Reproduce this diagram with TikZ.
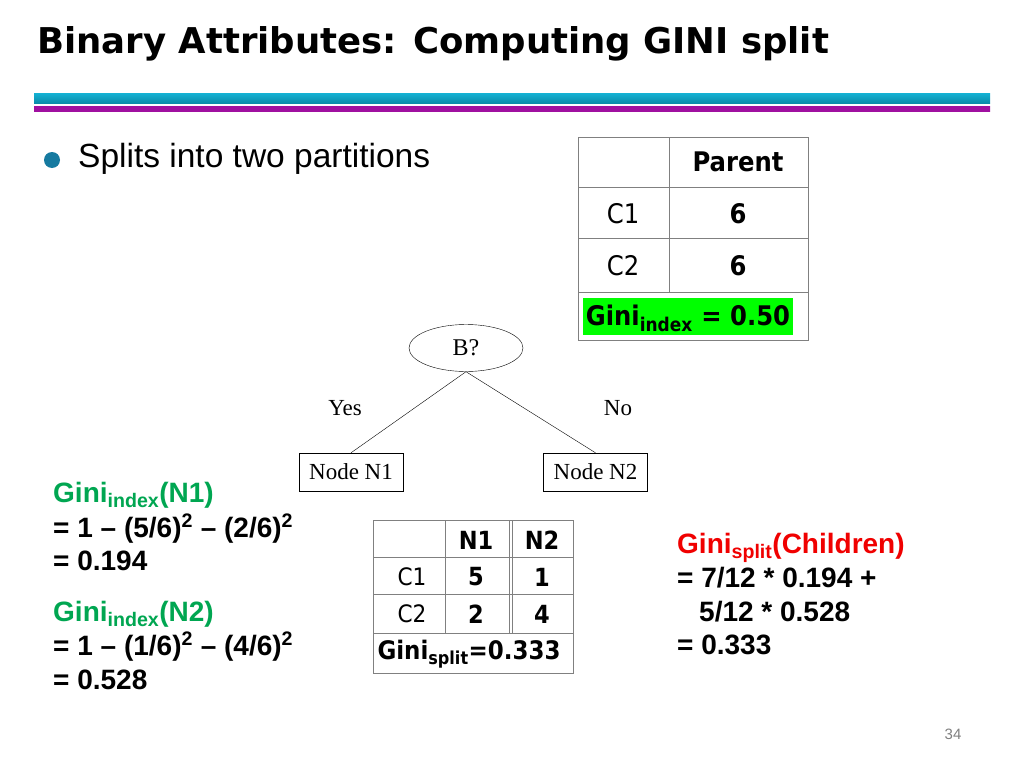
\documentclass[tikz,border=0pt]{standalone}
\usepackage{fontspec}
\usepackage{tikz}
\usetikzlibrary{shapes.geometric}
\setmainfont{Liberation Sans}
\newfontfamily\tahoma[FakeStretch=0.9]{DejaVu Sans}
\newfontfamily\titlefont{DejaVu Sans}
\newfontfamily\timesfont{Liberation Serif}
\definecolor{barcyan}{RGB}{20,178,212}
\definecolor{bardark}{RGB}{10,140,170}
\definecolor{barmag}{RGB}{255,0,255}
\definecolor{barmagdark}{RGB}{160,16,160}
\definecolor{ginigreen}{RGB}{0,166,81}
\definecolor{ginired}{RGB}{240,0,0}
\definecolor{bulletblue}{RGB}{22,122,160}
\definecolor{tablegray}{RGB}{128,128,128}
\definecolor{cellgreen}{RGB}{0,255,0}

\begin{document}
\begin{tikzpicture}[x=1pt,y=-1pt,
    titletext/.style={anchor=base west,inner sep=0pt,font=\titlefont\bfseries\fontsize{35.5}{40}\selectfont},
    tbl/.style={draw=tablegray,line width=1pt},
    cell/.style={inner sep=0pt,font=\tahoma\fontsize{27}{30}\selectfont},
    boldcell/.style={cell,font=\tahoma\bfseries\fontsize{27}{30}\selectfont},
    smallcell/.style={inner sep=0pt,font=\tahoma\fontsize{24}{28}\selectfont},
    smallbold/.style={smallcell,font=\tahoma\bfseries\fontsize{25}{28}\selectfont},
    treenode/.style={draw,rectangle,minimum width=104pt,minimum height=38pt,inner sep=0pt,font=\timesfont\fontsize{23}{26}\selectfont},
    treelabel/.style={inner sep=0pt,font=\timesfont\fontsize{23}{26}\selectfont},
    calc/.style={anchor=base west,inner sep=0pt,font=\bfseries\fontsize{28}{32}\selectfont}]
        \useasboundingbox (0,0) rectangle (1024,768);
        \fill[white] (0,0) rectangle (1024,768);
        % title and bars
        \node[titletext] (title) at (37,53) {Binary Attributes: Computing GINI split};
        \shade[top color=barcyan,middle color=barcyan!70!white,bottom color=bardark] (34,93) rectangle (990,103);
        \shade[left color=barmagdark,middle color=barmag,right color=barmagdark] (34,106) rectangle (990,111);
        % bullet
        \fill[bulletblue] (52,160) circle (8);
        \node[anchor=base west,inner sep=0pt,font=\fontsize{33.5}{38}\selectfont] (bullet) at (78,167) {Splits into two partitions};
        % parent table
        \fill[cellgreen] (583,298) rectangle (793,335);
        \draw[tbl] (578,137) rectangle (808,340);
        \draw[tbl] (669,137) -- (669,292);
        \draw[tbl] (578,187) -- (808,187);
        \draw[tbl] (578,238) -- (808,238);
        \draw[tbl] (578,292) -- (808,292);
        \node[boldcell] (parent) at (738,162) {Parent};
        \node[cell] (pc1) at (623,214) {C1};
        \node[boldcell] (pv1) at (738,214) {6};
        \node[cell] (pc2) at (623,266) {C2};
        \node[boldcell] (pv2) at (738,266) {6};
        \node[boldcell] (pgini) at (688,318) {Gini\textsubscript{index} = 0.50};
        % tree
        \node[draw,ellipse,minimum width=114pt,minimum height=47pt,inner sep=0pt,font=\timesfont\fontsize{24}{26}\selectfont] (q) at (466,348) {B?};
        \node[treenode] (n1) at (351,472) {Node N1};
        \node[treenode] (n2) at (595.5,472) {Node N2};
        \draw (q.south) -- (n1.north);
        \draw (q.south) -- (n2.north);
        \node[treelabel] (yes) at (345,408) {Yes};
        \node[treelabel] (no) at (618,408) {No};
        % children table
        \draw[tbl] (373,520) rectangle (573,673);
        \draw[tbl] (445,520) -- (445,633);
        \draw[tbl] (509,520) -- (509,633);
        \draw[tbl] (512,520) -- (512,633);
        \draw[tbl] (373,557) -- (573,557);
        \draw[tbl] (373,594) -- (573,594);
        \draw[tbl] (373,633) -- (573,633);
        \node[smallbold] (hn1) at (476,540) {N1};
        \node[smallbold] (hn2) at (542,540) {N2};
        \node[smallcell] (cc1) at (412,577) {C1};
        \node[smallbold] (v11) at (476,577) {5};
        \node[smallbold] (v12) at (542,577) {1};
        \node[smallcell] (cc2) at (412,614) {C2};
        \node[smallbold] (v21) at (476,614) {2};
        \node[smallbold] (v22) at (542,614) {4};
        \node[smallbold,font=\tahoma\bfseries\fontsize{25.5}{30}\selectfont] (cgini) at (469,654) {Gini\textsubscript{split}=0.333};
        % gini of the children
        \node[calc,text=ginigreen] (g1) at (53,502) {Gini\textsubscript{index}(N1)};
        \node[calc] (g1a) at (53,537) {= 1 – (5/6)\textsuperscript{2} – (2/6)\textsuperscript{2}};
        \node[calc] (g1b) at (53,570) {= 0.194};
        \node[calc,text=ginigreen] (g2) at (53,621) {Gini\textsubscript{index}(N2)};
        \node[calc] (g2a) at (53,655) {= 1 – (1/6)\textsuperscript{2} – (4/6)\textsuperscript{2}};
        \node[calc] (g2b) at (53,689) {= 0.528};
        % split value
        \node[calc,text=ginired] (s) at (677,553) {Gini\textsubscript{split}(Children)};
        \node[calc] (sa) at (677,587) {= 7/12 * 0.194 +};
        \node[calc] (sb) at (699,621) {5/12 * 0.528};
        \node[calc] (sc) at (677,654) {= 0.333};
        \node[font=\fontsize{15}{17}\selectfont,text=gray] (page) at (953,734) {34};
\end{tikzpicture}
\end{document}
